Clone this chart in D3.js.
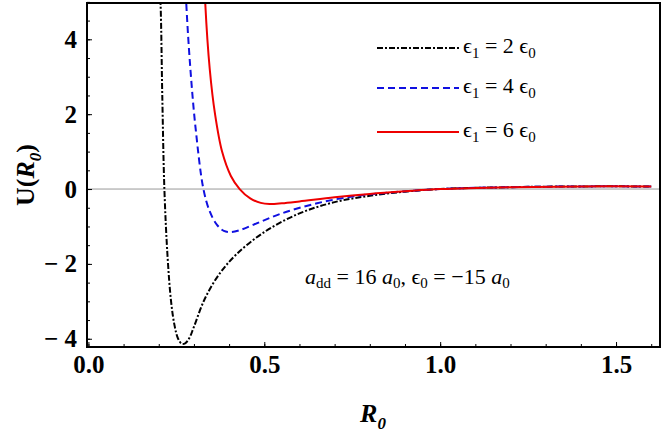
<!DOCTYPE html>
<html><head><meta charset="utf-8">
<script src="https://cdn.jsdelivr.net/npm/d3@7"></script>
<style>body{margin:0;background:#fff} text{font-family:"Liberation Serif","DejaVu Serif",serif}</style>
</head><body><div id="chart"></div>
<script>
// curves: [R0, U]
var eps2 = [[0.195,7],[0.205,5],[0.21,2.5],[0.216,0],[0.225,-1.8],[0.235,-3.0],[0.245,-3.65],[0.255,-4.0],[0.265,-4.13],[0.275,-4.12],[0.287,-3.98],[0.30,-3.68],[0.33,-2.95],[0.37,-2.3],[0.42,-1.75],[0.5,-1.15],[0.6,-0.65],[0.7,-0.35],[0.8,-0.18],[0.9,-0.07],[1.0,0.0],[1.2,0.05],[1.4,0.07],[1.6,0.07]]
var eps4 = [[0.27,7],[0.278,5],[0.29,3.2],[0.305,1.6],[0.327,0],[0.345,-0.6],[0.365,-0.95],[0.385,-1.12],[0.405,-1.15],[0.43,-1.1],[0.47,-0.95],[0.55,-0.65],[0.65,-0.38],[0.75,-0.2],[0.85,-0.1],[1.0,0.0],[1.2,0.05],[1.4,0.07],[1.6,0.07]]
var eps6 = [[0.325,7],[0.332,5],[0.345,3.2],[0.36,2.0],[0.38,1.0],[0.405,0.35],[0.43,0],[0.46,-0.25],[0.49,-0.37],[0.515,-0.4],[0.55,-0.38],[0.6,-0.33],[0.7,-0.22],[0.8,-0.13],[0.9,-0.06],[1.0,0.0],[1.2,0.05],[1.4,0.07],[1.6,0.07]]
var legendLabels = ['2', '4', '6']
var xTicks = [0, 0.5, 1.0, 1.5]
var yTicks = [-4, -2, 0, 2, 4]

var width = 664, height = 439
var svg = d3.select('#chart').append('svg').attr('width', width).attr('height', height)

var x = d3.scaleLinear().domain([-0.004, 1.625]).range([87, 660])
var y = d3.scaleLinear().domain([-4.22, 4.97]).range([347, 3])

svg.append('clipPath').attr('id', 'clip').append('rect')
  .attr('x', 87).attr('y', 3).attr('width', 573).attr('height', 344)

// zero line
svg.append('line').attr('x1', 87).attr('x2', 660).attr('y1', y(0)).attr('y2', y(0))
  .attr('stroke', '#999').attr('stroke-width', 1)

var series = [
  { data: eps2, color: '#000', dash: '6,2,2,2', w: 2 },
  { data: eps4, color: '#1010e0', dash: '7,4', w: 2 },
  { data: eps6, color: '#ee0000', dash: null, w: 2 }
]
var line = d3.line().x(d => x(d[0])).y(d => y(d[1])).curve(d3.curveCatmullRom.alpha(0.5))
series.forEach(function (s) {
  svg.append('path').attr('d', line(s.data)).attr('clip-path', 'url(#clip)')
    .attr('fill', 'none').attr('stroke', s.color).attr('stroke-width', s.w)
    .attr('stroke-dasharray', s.dash)
})

// axes
var xMinor = d3.range(0, 1.65, 0.1)
var yMinor = d3.range(-4, 5.01, 0.5)
var ax = svg.append('g').attr('transform', 'translate(0,347)')
  .call(d3.axisBottom(x).tickValues(xTicks).tickFormat(d3.format('.1f')).tickSize(-5).tickPadding(8))
svg.append('g').attr('transform', 'translate(0,347)')
  .call(d3.axisBottom(x).tickValues(xMinor).tickFormat('').tickSize(-3))
  .select('.domain').remove()
var ay = svg.append('g').attr('transform', 'translate(87,0)')
  .call(d3.axisLeft(y).tickValues(yTicks).tickFormat(d => d < 0 ? '\u2212 ' + Math.abs(d) : d).tickSize(-5).tickPadding(10))
svg.append('g').attr('transform', 'translate(87,0)')
  .call(d3.axisLeft(y).tickValues(yMinor).tickFormat('').tickSize(-3))
  .select('.domain').remove()
svg.selectAll('.tick text').style('font-size', '25px').style('font-weight', 'bold')
  .style('font-family', '"Liberation Serif", serif')
svg.selectAll('.domain, .tick line').attr('stroke', '#000')
svg.append('rect').attr('x', 87).attr('y', 3).attr('width', 573).attr('height', 344)
  .attr('fill', 'none').attr('stroke', '#000').attr('stroke-width', 2)

// axis titles
var xt = svg.append('text').attr('x', 373).attr('y', 422).attr('text-anchor', 'middle')
  .style('font-size', '26px').style('font-weight', 'bold').style('font-style', 'italic')
xt.append('tspan').text('R')
xt.append('tspan').text('0').attr('dy', 7).style('font-size', '17px')
var yt = svg.append('text').attr('transform', 'translate(34,175) rotate(-90)').attr('text-anchor', 'middle')
  .style('font-size', '26px').style('font-weight', 'bold')
yt.append('tspan').text('U(')
yt.append('tspan').text('R').style('font-style', 'italic')
yt.append('tspan').text('0').attr('dy', 7).style('font-size', '17px').style('font-style', 'italic')
yt.append('tspan').text(')').attr('dy', -7)

// legend
var ly = [48, 88, 132]
series.forEach(function (s, i) {
  svg.append('line').attr('x1', 377).attr('x2', 459).attr('y1', ly[i]).attr('y2', ly[i])
    .attr('stroke', s.color).attr('stroke-width', 2).attr('stroke-dasharray', s.dash)
  var t = svg.append('text').attr('x', 463).attr('y', ly[i] + 5).style('font-size', '22px')
  t.append('tspan').text('\u03f5')
  t.append('tspan').text('1').attr('dy', 5).style('font-size', '15px')
  t.append('tspan').text(' = ' + legendLabels[i] + ' \u03f5').attr('dy', -5)
  t.append('tspan').text('0').attr('dy', 5).style('font-size', '15px')
})

// annotation
var an = svg.append('text').attr('x', 305).attr('y', 284).style('font-size', '22px')
an.append('tspan').text('a').style('font-style', 'italic')
an.append('tspan').text('dd').attr('dy', 4).style('font-size', '15px')
an.append('tspan').text(' = 16 ').attr('dy', -4)
an.append('tspan').text('a').style('font-style', 'italic')
an.append('tspan').text('0').attr('dy', 4).style('font-size', '15px')
an.append('tspan').text(', \u03f5').attr('dy', -4)
an.append('tspan').text('0').attr('dy', 4).style('font-size', '15px')
an.append('tspan').text(' = \u221215 ').attr('dy', -4)
an.append('tspan').text('a').style('font-style', 'italic')
an.append('tspan').text('0').attr('dy', 4).style('font-size', '15px')
</script></body></html>
